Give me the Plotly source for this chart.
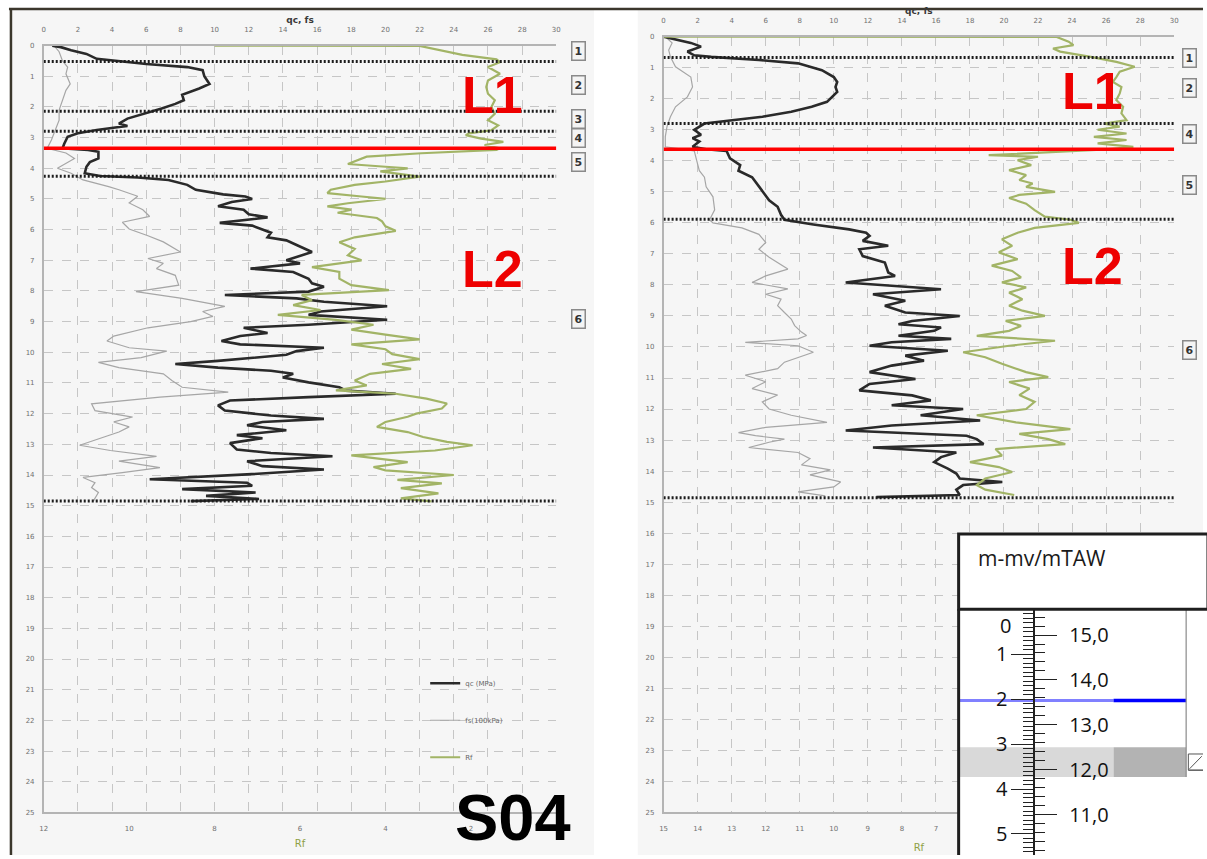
import plotly.graph_objects as go

W, H = 1207, 859

# ---------------- sounding S04 (left) : (depth m, value) ----------------
S04_QC = [(0.0, 0.5), (0.05, 1.0), (0.15, 1.6), (0.27, 2.5), (0.43, 3.1), (0.5, 4.4), (0.6, 6.0),
          (0.7, 8.4), (0.8, 9.3), (1.0, 9.4), (1.25, 9.7), (1.4, 9.1), (1.6, 8.1), (1.78, 8.2),
          (1.9, 7.7), (2.05, 6.9), (2.2, 6.0), (2.38, 4.9), (2.54, 4.4), (2.62, 4.9), (2.66, 4.3),
          (2.75, 3.1), (2.86, 2.0), (2.97, 1.4), (3.2, 1.2), (3.35, 1.1), (3.4, 2.6), (3.46, 3.2),
          (3.68, 3.2), (3.8, 2.7), (3.95, 2.5), (4.16, 2.4), (4.25, 3.3), (4.3, 5.5), (4.38, 7.3),
          (4.54, 8.4), (4.7, 8.9), (4.85, 10.5), (4.92, 11.8), (5.0, 12.2), (5.1, 11.0), (5.24, 10.2),
          (5.35, 11.7), (5.5, 12.0), (5.6, 13.1), (5.7, 11.3), (5.78, 10.3), (5.87, 12.2), (6.1, 13.3),
          (6.25, 13.1), (6.35, 14.2), (6.5, 14.8), (6.73, 15.7), (7.0, 14.2), (7.1, 15.0), (7.27, 12.1),
          (7.38, 14.6), (7.6, 15.5), (7.75, 15.7), (7.86, 16.4), (8.02, 15.5), (8.13, 10.6), (8.24, 14.8),
          (8.35, 16.4), (8.5, 20.1), (8.67, 16.2), (8.78, 15.5), (8.94, 20.1), (9.1, 15.5), (9.2, 11.7),
          (9.37, 13.1), (9.47, 11.5), (9.63, 10.4), (9.74, 11.5), (9.85, 16.4), (9.96, 14.8), (10.08, 14.2),
          (10.28, 10.2), (10.38, 7.7), (10.5, 10.2), (10.6, 13.3), (10.7, 14.6), (10.82, 14.0), (10.98, 15.5),
          (11.14, 17.3), (11.25, 17.7), (11.35, 20.6), (11.46, 15.5), (11.57, 10.9), (11.73, 10.2),
          (11.9, 10.6), (12.06, 13.3), (12.17, 16.4), (12.27, 12.8), (12.38, 11.9), (12.54, 14.2),
          (12.7, 11.3), (12.8, 12.8), (12.96, 10.9), (13.17, 11.3), (13.28, 13.3), (13.39, 16.9),
          (13.55, 11.9), (13.71, 12.8), (13.82, 16.4), (13.98, 11.9), (14.14, 6.2), (14.25, 11.9),
          (14.35, 12.2), (14.46, 8.1), (14.57, 12.4), (14.68, 9.5), (14.78, 12.6), (14.85, 8.6)]

S04_FS = [(0.0, 0.6), (0.2, 0.9), (0.5, 1.1), (0.7, 1.4), (0.92, 1.3), (1.25, 1.55), (1.46, 1.3),
          (1.78, 1.1), (2.1, 0.9), (2.43, 0.9), (2.75, 0.7), (3.08, 0.45), (3.35, 0.2), (3.5, 1.3),
          (3.68, 1.8), (3.84, 1.3), (4.0, 0.8), (4.16, 1.6), (4.38, 2.3), (4.6, 3.8), (4.7, 4.4),
          (4.91, 5.5), (5.13, 5.0), (5.35, 5.8), (5.57, 6.2), (5.76, 4.6), (5.98, 5.0), (6.2, 6.1),
          (6.4, 7.0), (6.73, 8.0), (6.94, 6.1), (7.1, 7.0), (7.27, 6.6), (7.49, 7.7), (7.81, 7.9),
          (8.02, 5.4), (8.24, 8.1), (8.5, 10.6), (8.67, 9.3), (8.83, 9.9), (9.0, 8.6), (9.2, 6.1),
          (9.47, 4.1), (9.63, 3.7), (9.85, 5.0), (9.96, 7.2), (10.17, 5.7), (10.33, 3.2), (10.5, 4.4),
          (10.7, 7.0), (10.92, 7.5), (11.14, 8.1), (11.3, 10.8), (11.46, 6.8), (11.68, 2.8), (11.9, 3.0),
          (12.11, 5.2), (12.27, 4.1), (12.43, 5.0), (12.6, 4.4), (12.87, 3.0), (13.03, 2.1), (13.2, 3.9),
          (13.39, 6.6), (13.55, 4.4), (13.76, 6.8), (13.92, 4.6), (14.08, 2.3), (14.25, 3.0),
          (14.41, 2.8), (14.57, 3.2), (14.73, 3.0), (14.85, 2.9)]

S04_RF = [(0.0, 8.0), (0.01, 3.2), (0.3, 2.2), (0.45, 1.4), (0.54, 1.32), (0.7, 1.6), (0.92, 1.32),
          (1.14, 1.6), (1.35, 1.64), (1.57, 1.6), (1.78, 1.44), (2.0, 1.52), (2.22, 1.44), (2.43, 1.6),
          (2.6, 1.36), (2.76, 1.52), (2.86, 2.04), (2.92, 2.12), (3.03, 1.76), (3.14, 1.24), (3.24, 1.68),
          (3.35, 1.32), (3.4, 1.4), (3.51, 3.16), (3.62, 4.44), (3.78, 4.72), (3.86, 4.88), (3.95, 4.0),
          (4.0, 3.48), (4.1, 4.12), (4.27, 3.2), (4.43, 4.0), (4.54, 4.72), (4.7, 5.28), (4.81, 5.36),
          (4.92, 4.56), (5.0, 4.0), (5.14, 4.88), (5.24, 5.36), (5.35, 4.8), (5.45, 5.12), (5.62, 4.2),
          (5.73, 4.08), (5.89, 4.0), (6.04, 3.76), (6.25, 4.72), (6.41, 5.08), (6.63, 4.72), (6.84, 4.88),
          (7.0, 4.56), (7.22, 5.72), (7.38, 5.08), (7.6, 5.08), (7.81, 4.8), (7.97, 3.92), (8.13, 5.96),
          (8.3, 5.72), (8.46, 6.16), (8.62, 5.52), (8.78, 6.52), (8.94, 5.16), (9.1, 4.28), (9.26, 4.8),
          (9.42, 4.0), (9.58, 3.2), (9.74, 4.8), (9.9, 4.0), (10.06, 3.84), (10.22, 3.2), (10.38, 4.08),
          (10.54, 3.4), (10.7, 4.36), (10.92, 4.72), (11.08, 4.44), (11.24, 5.16), (11.35, 3.76),
          (11.51, 3.04), (11.67, 2.56), (11.83, 2.68), (12.0, 3.28), (12.1, 3.48), (12.27, 4.0),
          (12.43, 4.2), (12.6, 3.48), (12.76, 3.12), (12.92, 2.56), (13.03, 1.96), (13.2, 2.84),
          (13.36, 4.8), (13.58, 3.48), (13.74, 4.28), (13.85, 4.0), (14.0, 2.4), (14.16, 3.72),
          (14.27, 2.68), (14.43, 3.64), (14.6, 2.76), (14.76, 3.64), (14.86, 2.92)]

S04_BOUNDS = [0.52, 2.14, 2.79, 4.26, 14.85]
S04_L1_BASE = 3.35
S04_UNITS = [(0.16, "1"), (1.29, "2"), (2.38, "3"), (3.0, "4"), (3.8, "5"), (8.9, "6")]

# ---------------- second sounding (right) ----------------
CPT2_QC = [(0.0, 0.0), (0.2, 1.6), (0.32, 2.2), (0.48, 1.4), (0.6, 1.8), (0.65, 2.8), (0.75, 5.6),
           (0.86, 7.9), (1.08, 9.3), (1.3, 10.0), (1.46, 10.2), (1.62, 10.1), (1.78, 10.2), (1.94, 9.9),
           (2.1, 9.6), (2.26, 8.7), (2.42, 7.5), (2.58, 5.8), (2.69, 4.1), (2.8, 2.4), (3.0, 1.8),
           (3.16, 2.2), (3.27, 1.7), (3.38, 2.1), (3.55, 1.7), (3.63, 2.5), (3.68, 3.7), (3.92, 3.9),
           (4.14, 4.5), (4.32, 4.4), (4.53, 5.2), (4.84, 5.6), (5.0, 5.8), (5.27, 6.2), (5.48, 6.7),
           (5.74, 6.9), (5.9, 7.1), (6.05, 8.8), (6.21, 10.9), (6.32, 11.9), (6.42, 12.1), (6.58, 11.7),
           (6.74, 13.2), (6.85, 11.5), (7.07, 11.7), (7.28, 13.0), (7.6, 13.2), (7.71, 13.6), (7.92, 10.7),
           (8.03, 13.4), (8.14, 16.3), (8.3, 12.3), (8.51, 14.2), (8.67, 13.0), (8.89, 14.2), (9.0, 17.4),
           (9.16, 14.6), (9.27, 13.8), (9.37, 16.3), (9.48, 15.9), (9.64, 13.8), (9.74, 16.9), (9.85, 13.4),
           (9.96, 12.1), (10.12, 16.7), (10.28, 14.2), (10.44, 15.3), (10.6, 13.4), (10.81, 12.1),
           (11.03, 14.8), (11.19, 12.1), (11.4, 11.5), (11.56, 14.6), (11.72, 15.7), (11.88, 13.4),
           (12.0, 17.6), (12.2, 15.1), (12.37, 18.6), (12.53, 13.4), (12.69, 10.7), (12.86, 17.8),
           (12.97, 18.4), (13.13, 18.8), (13.24, 12.3), (13.4, 17.2), (13.55, 16.3), (13.71, 15.9),
           (13.92, 16.7), (14.08, 17.2), (14.24, 17.4), (14.35, 19.9), (14.45, 17.6), (14.6, 17.2),
           (14.77, 17.4), (14.84, 12.5)]

CPT2_FS = [(0.0, 0.1), (0.2, 0.5), (0.43, 0.3), (0.65, 0.4), (0.97, 0.7), (1.3, 1.6), (1.62, 1.7),
           (1.94, 1.4), (2.26, 0.7), (2.58, 0.4), (2.9, 0.2), (3.22, 0.1), (3.55, 0.1), (3.68, 1.8),
           (4.0, 1.95), (4.32, 2.1), (4.53, 2.4), (4.84, 2.5), (5.16, 2.9), (5.58, 3.0), (5.9, 2.7),
           (6.0, 2.9), (6.16, 4.6), (6.37, 5.6), (6.63, 6.0), (6.85, 5.6), (7.11, 6.2), (7.49, 7.3),
           (7.71, 6.0), (7.92, 5.2), (8.13, 7.3), (8.3, 6.0), (8.46, 6.9), (8.67, 6.7), (8.89, 7.1),
           (9.1, 7.5), (9.31, 7.7), (9.52, 8.1), (9.63, 8.4), (9.74, 7.9), (9.85, 4.8), (9.96, 7.9),
           (10.17, 8.8), (10.33, 7.9), (10.49, 7.1), (10.7, 6.7), (10.91, 4.8), (11.12, 6.0), (11.34, 5.2),
           (11.55, 6.7), (11.77, 5.8), (12.0, 6.2), (12.2, 7.5), (12.43, 9.6), (12.59, 6.0), (12.76, 4.4),
           (12.86, 5.4), (12.97, 7.1), (13.07, 6.2), (13.24, 5.0), (13.4, 7.9), (13.6, 8.6), (13.8, 8.1),
           (13.96, 9.8), (14.12, 8.6), (14.35, 10.4), (14.51, 10.0), (14.67, 7.9), (14.8, 9.5)]

CPT2_RF = [(0.0, 15.0), (0.01, 3.45), (0.16, 3.1), (0.27, 2.96), (0.38, 3.56), (0.48, 3.35), (0.65, 2.45),
           (0.81, 1.7), (0.97, 1.16), (1.13, 1.6), (1.3, 1.7), (1.46, 1.8), (1.62, 1.55), (1.83, 1.6),
           (2.04, 1.7), (2.26, 1.5), (2.47, 1.55), (2.69, 1.4), (2.8, 2.06), (2.9, 1.6), (3.0, 2.25),
           (3.12, 1.4), (3.23, 2.36), (3.33, 1.4), (3.44, 2.25), (3.55, 1.2), (3.63, 2.0), (3.82, 5.45),
           (3.87, 4.0), (3.98, 4.6), (4.14, 4.2), (4.3, 4.85), (4.46, 4.35), (4.62, 4.55), (4.73, 4.16),
           (4.84, 4.35), (5.0, 3.5), (5.1, 4.55), (5.2, 4.85), (5.38, 4.35), (5.59, 4.1), (5.8, 3.8),
           (5.9, 3.05), (6.0, 2.8), (6.16, 4.1), (6.32, 4.6), (6.53, 5.06), (6.74, 4.76), (6.95, 5.15),
           (7.17, 4.6), (7.38, 5.36), (7.55, 4.76), (7.76, 4.5), (7.92, 5.06), (8.08, 4.35), (8.25, 4.85),
           (8.46, 4.46), (8.67, 4.85), (8.83, 4.46), (9.0, 3.8), (9.16, 4.95), (9.32, 4.5), (9.48, 4.85),
           (9.64, 5.8), (9.8, 3.5), (9.96, 4.85), (10.17, 6.2), (10.33, 5.55), (10.54, 5.06),
           (10.81, 4.35), (10.97, 3.7), (11.13, 4.85), (11.34, 4.25), (11.55, 4.55), (11.77, 4.1),
           (12.0, 4.35), (12.2, 5.8), (12.43, 4.65), (12.65, 3.05), (12.8, 4.55), (12.97, 3.7),
           (13.13, 3.2), (13.29, 5.25), (13.5, 5.06), (13.71, 6.0), (13.87, 5.15), (14.03, 4.76),
           (14.24, 5.55), (14.45, 5.8), (14.6, 5.55), (14.77, 4.7)]

CPT2_BOUNDS = [0.67, 2.80, 5.88, 14.86]
CPT2_L1_BASE = 3.63
CPT2_UNITS = [(0.70, "1"), (1.66, "2"), (3.13, "4"), (4.79, "5"), (10.1, "6")]
CPT2_RF_TICKS = [7, 8, 9, 10, 11, 12, 13, 14, 15]   # 0-6 sit under the level scale

# ---------------- level scale (m-mv / mTAW) ----------------
GROUND_TAW = 15.57          # mTAW at 0 m-mv
SCALE_BOTTOM = 5.47         # deepest m-mv shown
SCALE_TOP = -1.68           # header height expressed in m
WATER_DEPTH = 2.03
BAND_TOP, BAND_BASE = 3.07, 3.73
COL_SPLIT, COL_EDGE = 0.634, 0.931


def fx(px):
    return px / W


def fy(py):
    return 1 - py / H


tick_font = dict(family="DejaVu Sans", size=7, color="#707070")
grid = dict(showgrid=True, gridcolor="#c6c6c6", griddash="dash", gridwidth=1)
axis_line = dict(showline=True, linecolor="#b4b4b4", linewidth=1.5, zeroline=False)

fig = go.Figure()


def add_sounding(qc, fs, rf, xq, xr, ya, show):
    d, v = zip(*fs)
    fig.add_trace(go.Scatter(x=v, y=d, xaxis=xq, yaxis=ya, mode="lines", name="fs(100kPa)",
                             line=dict(color="#a6a6a6", width=1.2), showlegend=show,
                             legendgroup="fs", legendrank=2))
    d, v = zip(*qc)
    fig.add_trace(go.Scatter(x=v, y=d, xaxis=xq, yaxis=ya, mode="lines", name="qc (MPa)",
                             line=dict(color="#2a2a2a", width=2.6), showlegend=show,
                             legendgroup="qc", legendrank=1))
    d, v = zip(*rf)
    fig.add_trace(go.Scatter(x=v, y=d, xaxis=xr, yaxis=ya, mode="lines", name="Rf",
                             line=dict(color="#a2b466", width=2.2), showlegend=show,
                             legendgroup="rf", legendrank=3))


add_sounding(S04_QC, S04_FS, S04_RF, "x", "x2", "y", True)
add_sounding(CPT2_QC, CPT2_FS, CPT2_RF, "x3", "x4", "y2", False)

shapes = []
annotations = []

# panel backgrounds and frame
shapes.append(dict(type="rect", xref="paper", yref="paper", x0=fx(8), x1=fx(594), y0=0, y1=fy(6),
                   fillcolor="#f6f6f6", line_width=0, layer="below"))
shapes.append(dict(type="rect", xref="paper", yref="paper", x0=fx(638), x1=1, y0=0, y1=fy(6),
                   fillcolor="#f6f6f6", line_width=0, layer="below"))

# layer boundaries
for xa, ya, bounds, base in (("x", "y", S04_BOUNDS, S04_L1_BASE), ("x3", "y2", CPT2_BOUNDS, CPT2_L1_BASE)):
    for b in bounds:
        shapes.append(dict(type="line", xref=xa, yref=ya, x0=0, x1=30, y0=b, y1=b,
                           line=dict(color="#1c1c1c", width=3, dash="2px,2px")))
    shapes.append(dict(type="line", xref=xa, yref=ya, x0=0, x1=30, y0=base, y1=base,
                       line=dict(color="#ff0000", width=3.5)))

# unit numbers
for xp, ya, units in ((578, "y", S04_UNITS), (1201, "y2", CPT2_UNITS)):
    for d, t in units:
        annotations.append(dict(x=fx(xp), y=d, xref="paper", yref=ya, text="<b>%s</b>" % t,
                                showarrow=False, font=dict(family="DejaVu Sans", size=11, color="#333"),
                                bordercolor="#8a8a8a", borderwidth=1.5, borderpad=2, bgcolor="#f4f4f4"))

# L1 / L2 labels
for xp, ya, d1, d2 in ((492, "y", 1.62, 7.29), (1128, "y2", 1.74, 7.38)):
    for d, t in ((d1, "L1"), (d2, "L2")):
        annotations.append(dict(x=fx(xp), y=d, xref="paper", yref=ya, text="<b>%s</b>" % t,
                                showarrow=False,
                                font=dict(family="Liberation Sans", size=52, color="#ee0000")))

annotations.append(dict(x=fx(512), y=fy(860), xref="paper", yref="paper", text="<b>S04</b>",
                        showarrow=False, font=dict(family="Liberation Sans", size=65, color="#000")))

# top frame line
shapes.append(dict(type="line", xref="paper", yref="paper", x0=fx(5), x1=1, y0=fy(5), y1=fy(5),
                   line=dict(color="#3b372c", width=2.5), layer="above"))
shapes.append(dict(type="line", xref="paper", yref="paper", x0=fx(7), x1=fx(7), y0=0, y1=fy(5),
                   line=dict(color="#3b372c", width=2.5), layer="above"))

# ---------------- level scale panel ----------------
shapes.append(dict(type="rect", xref="x5", yref="y3", x0=0, x1=1, y0=SCALE_TOP, y1=SCALE_BOTTOM,
                   fillcolor="#ffffff", line_width=0, layer="below"))
fig.add_trace(go.Scatter(x=[0, COL_SPLIT, COL_SPLIT, 0, 0], y=[BAND_TOP, BAND_TOP, BAND_BASE, BAND_BASE, BAND_TOP],
                         xaxis="x5", yaxis="y3", mode="lines", fill="toself", fillcolor="#d9d9d9",
                         line_width=0, showlegend=False, hoverinfo="skip"))
fig.add_trace(go.Scatter(x=[COL_SPLIT, COL_EDGE, COL_EDGE, COL_SPLIT, COL_SPLIT],
                         y=[BAND_TOP, BAND_TOP, BAND_BASE, BAND_BASE, BAND_TOP],
                         xaxis="x5", yaxis="y3", mode="lines", fill="toself", fillcolor="#b3b3b3",
                         line_width=0, showlegend=False, hoverinfo="skip"))
fig.add_trace(go.Scatter(x=[0, COL_SPLIT], y=[WATER_DEPTH, WATER_DEPTH], xaxis="x5", yaxis="y3",
                         mode="lines", line=dict(color="#8080ff", width=3), showlegend=False))
fig.add_trace(go.Scatter(x=[COL_SPLIT, COL_EDGE], y=[WATER_DEPTH, WATER_DEPTH], xaxis="x5", yaxis="y3",
                         mode="lines", line=dict(color="#0000ff", width=3.5), showlegend=False))
fig.add_trace(go.Scatter(x=[COL_EDGE, COL_EDGE], y=[0, BAND_BASE], xaxis="x5", yaxis="y3",
                         mode="lines", line=dict(color="#8a8a8a", width=1.2), showlegend=False))
fig.add_trace(go.Scatter(x=[1.0, 0.94, 0.94, 1.0, 0.94], y=[3.22, 3.22, 3.58, 3.58, 3.58],
                         xaxis="x5", yaxis="y3", mode="lines", line=dict(color="#555", width=1),
                         showlegend=False))
fig.add_trace(go.Scatter(x=[0.945, 0.995], y=[3.55, 3.27], xaxis="x5", yaxis="y3",
                         mode="lines", line=dict(color="#555", width=1), showlegend=False))
fig.add_trace(go.Scatter(x=[0.5], y=[GROUND_TAW], xaxis="x5", yaxis="y4", mode="markers",
                         marker=dict(opacity=0), showlegend=False, hoverinfo="skip"))

shapes.append(dict(type="rect", xref="paper", yref="paper", x0=fx(961), x1=fx(1212), y0=fy(611), y1=fy(535),
                   fillcolor="#ffffff", line=dict(color="#1e1e1e", width=3), layer="above"))
shapes.append(dict(type="line", xref="paper", yref="paper", x0=fx(961), x1=fx(961), y0=fy(611), y1=0,
                   line=dict(color="#1e1e1e", width=3), layer="above"))
annotations.append(dict(x=fx(978), y=fy(575), xref="paper", yref="paper", text="m-mv/mTAW",
                        xanchor="left", showarrow=False,
                        font=dict(family="Open Sans", size=21, color="#1a1a1a")))
annotations.append(dict(x=fx(1016), y=0.35, xref="paper", yref="y3", text="0", xanchor="right",
                        showarrow=False, font=dict(family="Open Sans", size=20, color="#111")))

scale_font = dict(family="Open Sans", size=20, color="#111")
taw_ticks = [10, 11, 12, 13, 14, 15]

fig.update_layout(
    width=W, height=H, margin=dict(l=0, r=0, t=0, b=0),
    paper_bgcolor="#ffffff", plot_bgcolor="rgba(0,0,0,0)",
    showlegend=True,
    legend=dict(x=fx(424), y=fy(671), xanchor="left", yanchor="top", bgcolor="rgba(0,0,0,0)",
                font=dict(family="DejaVu Sans", size=7, color="#666"), itemwidth=30,
                tracegroupgap=18),
    xaxis=dict(domain=[fx(40), fx(556)], range=[0, 30], side="top", anchor="y",
               tickvals=list(range(0, 31, 2)), tickfont=tick_font, ticklabelstandoff=9,
               title=dict(text="<b>qc, fs</b>", font=dict(family="DejaVu Sans", size=9, color="#3a3a3a"),
                          standoff=1), **grid, **axis_line),
    xaxis2=dict(overlaying="x", side="bottom", anchor="y", range=[12, 0],
                tickvals=list(range(0, 13, 2)), tickfont=tick_font, ticklabelstandoff=8,
                showgrid=False, title=dict(text="Rf", font=dict(family="DejaVu Sans", size=10, color="#8fa044"),
                                           standoff=8), **axis_line),
    yaxis=dict(domain=[fy(816), fy(42)], range=[25, 0], anchor="x", tickvals=list(range(0, 26)),
               tickfont=tick_font, ticklabelstandoff=6, **grid, **axis_line),
    xaxis3=dict(domain=[fx(664), fx(1178)], range=[0, 30], side="top", anchor="y2",
                tickvals=list(range(0, 31, 2)), tickfont=tick_font, ticklabelstandoff=9,
                title=dict(text="<b>qc, fs</b>", font=dict(family="DejaVu Sans", size=9, color="#3a3a3a"),
                           standoff=1), **grid, **axis_line),
    xaxis4=dict(overlaying="x3", side="bottom", anchor="y2", range=[15, 0],
                tickvals=CPT2_RF_TICKS, tickfont=tick_font, ticklabelstandoff=8,
                showgrid=False, title=dict(text="Rf", font=dict(family="DejaVu Sans", size=10, color="#8fa044"),
                                           standoff=12), **axis_line),
    yaxis2=dict(domain=[fy(816), fy(33)], range=[25, 0], anchor="x3", tickvals=list(range(0, 26)),
                tickfont=tick_font, ticklabelstandoff=6, **grid, **axis_line),
    xaxis5=dict(domain=[fx(961), 1], range=[0, 1], anchor="y3", visible=False),
    yaxis3=dict(domain=[0, fy(535)], range=[SCALE_BOTTOM, SCALE_TOP], anchor="free", position=fx(1037),
                side="left", tickvals=[1, 2, 3, 4, 5], ticks="outside", ticklen=22, tickwidth=1.2,
                tickcolor="#222", tickfont=scale_font, showline=True, linecolor="#222", linewidth=1.5,
                showgrid=False, zeroline=False,
                minor=dict(ticks="outside", ticklen=10, dtick=0.1, tick0=0, tickcolor="#222",
                           tickwidth=1, showgrid=False)),
    yaxis4=dict(overlaying="y3", anchor="free", position=fx(1037), side="right",
                range=[GROUND_TAW - SCALE_BOTTOM, GROUND_TAW - SCALE_TOP],
                tickvals=taw_ticks, ticktext=["%d,0" % t for t in taw_ticks], ticks="outside",
                ticklen=22, tickwidth=1.2, tickcolor="#222", tickfont=scale_font, ticklabelstandoff=8,
                showline=False, showgrid=False, zeroline=False,
                minor=dict(ticks="outside", ticklen=10, dtick=0.2, tick0=10, tickcolor="#222",
                           tickwidth=1, showgrid=False)),
    shapes=shapes, annotations=annotations,
)

fig.write_html("out.html")
